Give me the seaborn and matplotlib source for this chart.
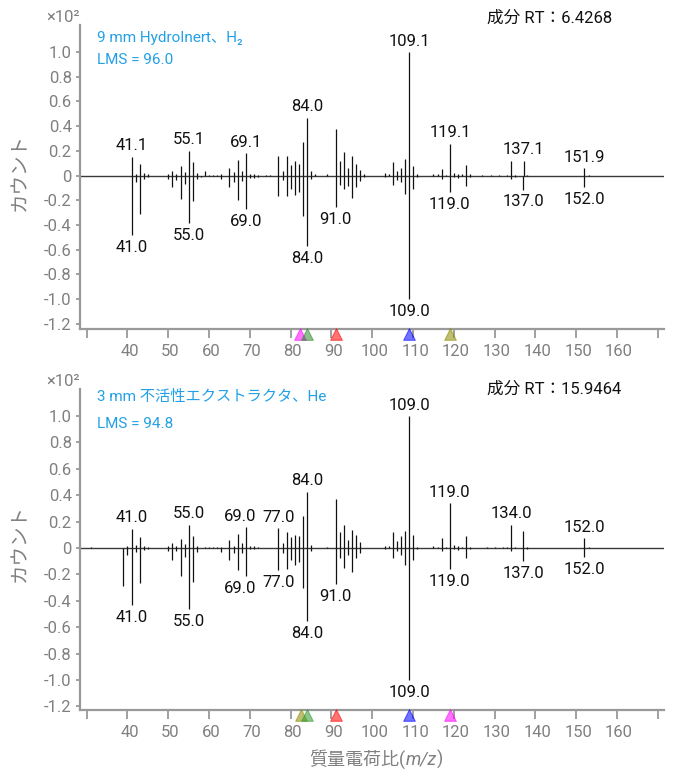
import matplotlib
matplotlib.use('Agg')
import matplotlib.pyplot as plt
import matplotlib.transforms as mtransforms
import seaborn as sns

# --- データ（上段：9 mm HydroInert、H2） ---
top_up_mz = [41.1, 42, 43, 44, 45, 50, 51, 52, 53, 54, 55.1, 56, 57, 59, 60, 61, 62, 63,
             65, 66, 67, 68, 69.1, 70, 71, 72, 74, 75, 77, 78, 79, 80, 81, 82, 83, 84.0, 85, 86, 89,
             91, 92, 93, 94, 95, 96, 97, 98, 103, 104, 105, 106, 107, 108, 109.1, 110, 111,
             115, 116, 117, 118, 119.1, 120, 121, 122, 123, 124, 127, 129, 131, 133,
             134, 135, 137.1, 138, 151.9, 153]
top_up_int = [0.152, 0.016, 0.095, 0.02, 0.012, 0.012, 0.035, 0.016, 0.076, 0.03, 0.20, 0.11, 0.02, 0.035, 0.008, 0.008, 0.008, 0.01,
              0.06, 0.027, 0.125, 0.04, 0.18, 0.01, 0.01, 0.008, 0.005, 0.005, 0.16, 0.04, 0.157, 0.087, 0.12, 0.095, 0.27, 0.47, 0.035, 0.016, 0.01,
              0.374, 0.114, 0.19, 0.057, 0.157, 0.092, 0.043, 0.01, 0.02, 0.016, 0.11, 0.035, 0.062, 0.13, 1.0, 0.076, 0.01,
              0.016, 0.01, 0.054, 0.008, 0.257, 0.02, 0.015, 0.012, 0.087, 0.01, 0.004, 0.004, 0.004, 0.006,
              0.114, 0.008, 0.12, 0.008, 0.057, 0.005]
top_dn_mz = [41.0, 42, 43, 44, 45, 50, 51, 52, 53, 54, 55.0, 56, 57, 58, 63,
             65, 66, 67, 68, 69.0, 70, 71, 72, 77, 78, 79, 80, 81, 82, 83, 84.0, 85,
             91.0, 92, 93, 94, 95, 96, 97, 98, 103, 105, 106, 107, 108, 109.0, 110, 111,
             117, 119.0, 120, 121, 123, 124, 134, 135, 137.0, 152.0]
top_dn_int = [-0.48, -0.05, -0.31, -0.03, -0.01, -0.025, -0.09, -0.04, -0.19, -0.07, -0.385, -0.21, -0.03, -0.01, -0.03,
              -0.095, -0.055, -0.2, -0.046, -0.27, -0.02, -0.02, -0.01, -0.17, -0.04, -0.168, -0.108, -0.155, -0.135, -0.33, -0.57, -0.03,
              -0.255, -0.076, -0.108, -0.087, -0.184, -0.092, -0.046, -0.01, -0.016, -0.073, -0.033, -0.054, -0.15, -1.0, -0.11, -0.01,
              -0.03, -0.133, -0.01, -0.02, -0.087, -0.01, -0.027, -0.01, -0.114, -0.092]
top_up_labels = [41.1, 55.1, 69.1, 84.0, 109.1, 119.1, 137.1, 151.9]
top_dn_labels = [41.0, 55.0, 69.0, 84.0, 91.0, 109.0, 119.0, 137.0, 152.0]
top_marker_mz = [82.3, 84, 91, 109, 119]
top_marker_colors = ['#ff00ff', '#2e8b2e', '#ff0000', '#0000ff', '#8c8c00']

# --- データ（下段：3 mm 不活性エクストラクタ、He） ---
bot_up_mz = [31, 40, 41.0, 42, 43, 44, 45, 50, 51, 52, 53, 54, 55.0, 56, 57, 59, 60, 61, 62, 63,
             65, 66, 67, 68, 69.0, 70, 71, 72, 77.0, 78, 79, 80, 81, 82, 83, 84.0, 85, 89,
             91, 92, 93, 94, 95, 96, 97, 103, 104, 105, 106, 107, 108, 109.0, 110, 111,
             115, 116, 117, 118, 119.0, 120, 121, 122, 123, 124, 128, 130, 132, 133,
             134.0, 135, 137, 138, 152.0, 153]
bot_up_int = [0.005, 0.018, 0.145, 0.025, 0.083, 0.018, 0.01, 0.013, 0.038, 0.018, 0.07, 0.033, 0.175, 0.093, 0.018, 0.008, 0.006, 0.006, 0.006, 0.006,
              0.063, 0.018, 0.108, 0.038, 0.158, 0.015, 0.012, 0.008, 0.15, 0.038, 0.12, 0.08, 0.1, 0.088, 0.243, 0.426, 0.025, 0.005,
              0.368, 0.118, 0.173, 0.058, 0.138, 0.1, 0.043, 0.013, 0.013, 0.12, 0.05, 0.088, 0.13, 1.0, 0.1, 0.01,
              0.018, 0.01, 0.075, 0.01, 0.338, 0.02, 0.015, 0.01, 0.093, 0.01, 0.004, 0.004, 0.006, 0.008,
              0.175, 0.01, 0.13, 0.008, 0.075, 0.005]
bot_dn_mz = [39, 40, 41.0, 42, 43, 44, 45, 50, 51, 52, 53, 54, 55.0, 56, 57, 63,
             65, 66, 67, 68, 69.0, 70, 71, 77.0, 78, 79, 80, 81, 82, 83, 84.0, 85,
             91.0, 92, 93, 94, 95, 96, 97, 103, 105, 106, 107, 108, 109.0, 110, 111,
             117, 119.0, 120, 121, 123, 124, 134, 137.0, 138, 152.0]
bot_dn_int = [-0.29, -0.05, -0.43, -0.033, -0.263, -0.018, -0.01, -0.025, -0.093, -0.025, -0.21, -0.068, -0.46, -0.256, -0.03, -0.03,
              -0.093, -0.038, -0.17, -0.038, -0.213, -0.01, -0.01, -0.168, -0.038, -0.158, -0.088, -0.125, -0.103, -0.3, -0.556, -0.025,
              -0.276, -0.075, -0.153, -0.05, -0.183, -0.075, -0.038, -0.01, -0.075, -0.025, -0.05, -0.125, -1.0, -0.093, -0.01,
              -0.025, -0.158, -0.01, -0.015, -0.075, -0.01, -0.025, -0.1, -0.005, -0.068]
bot_up_labels = [41.0, 55.0, 69.0, 77.0, 84.0, 109.0, 119.0, 134.0, 152.0]
bot_dn_labels = [41.0, 55.0, 69.0, 77.0, 84.0, 91.0, 109.0, 119.0, 137.0, 152.0]
bot_marker_mz = [82.5, 84, 91, 109, 119]
bot_marker_colors = ['#8c8c00', '#2e9b2e', '#ff0000', '#0000ff', '#ff00ff']

x_ticks = list(range(30, 171, 10))
y_ticks = [1.0, 0.8, 0.6, 0.4, 0.2, 0, -0.2, -0.4, -0.6, -0.8, -1.0, -1.2]

sns.set_theme(style='white')
plt.rcParams['font.family'] = ['Roboto', 'Noto Sans CJK JP', 'DejaVu Sans']
plt.rcParams['axes.unicode_minus'] = False

GREY = '#808080'
BLUE = '#22a0e6'
BAR = '#111111'
W, H = 678, 773

fig = plt.figure(figsize=(W / 100, H / 100), dpi=100)


def px_axes(left, top, right, bottom):
    # ピクセル座標で軸を配置
    return fig.add_axes([left / W, 1 - bottom / H, (right - left) / W, (bottom - top) / H])


def px_text(x, y, s, **kw):
    return fig.text(x / W, 1 - y / H, s, **kw)


ax_top = px_axes(80, 25, 664, 329)
ax_bot = px_axes(80, 389, 664, 710)


def spread_labels(texts):
    # 重なったラベルを左へずらす
    fig.canvas.draw()
    r = fig.canvas.get_renderer()
    texts = sorted(texts, key=lambda t: t.xy[0])
    for i in range(len(texts) - 2, -1, -1):
        a = texts[i].get_window_extent(r)
        b = texts[i + 1].get_window_extent(r)
        if a.x1 + 6 > b.x0 and a.y0 < b.y1 and b.y0 < a.y1:
            dx = (a.x1 + 6 - b.x0) * 72 / fig.dpi
            ox, oy = texts[i].xyann
            texts[i].xyann = (ox - dx, oy)


def draw_panel(ax, up_mz, up_int, dn_mz, dn_int, up_lab, dn_lab, mk_mz, mk_col, ylims):
    ax.axhline(0, color='#3a3a3a', lw=1.0, zorder=1)
    ax.vlines(up_mz, 0, up_int, color=BAR, lw=0.9, zorder=2)
    ax.vlines(dn_mz, 0, dn_int, color=BAR, lw=0.9, zorder=2)

    # ピークラベル
    ups, dns = [], []
    for m in up_lab:
        h = up_int[up_mz.index(m)]
        ups.append(ax.annotate(f'{m:.1f}', (m, h), xytext=(0, 2.5), textcoords='offset points',
                               ha='center', va='bottom', fontsize=12, color='#111111'))
    for m in dn_lab:
        h = dn_int[dn_mz.index(m)]
        dns.append(ax.annotate(f'{m:.1f}', (m, h), xytext=(0, -3.5), textcoords='offset points',
                               ha='center', va='top', fontsize=12, color='#111111'))

    ax.set_xlim(28.36, 171.5)
    ax.set_ylim(*ylims)
    ax.set_xticks(x_ticks)
    ax.set_xticklabels(['' if t in (30, 170) else str(t) for t in x_ticks])
    ax.set_yticks(y_ticks)
    ax.set_yticklabels(['0' if t == 0 else f'{t:.1f}' for t in y_ticks])
    ax.tick_params(axis='x', length=6.5, width=1.3, color='#999999', labelcolor=GREY,
                   labelsize=12, pad=4.5, bottom=True)
    ax.tick_params(axis='y', length=3, width=1.3, color='#999999', labelcolor=GREY,
                   labelsize=12, pad=3, left=True)
    shift = mtransforms.ScaledTranslation(2 / 100, 0, fig.dpi_scale_trans)
    for lab in ax.get_xticklabels():
        lab.set_transform(lab.get_transform() + shift)
    sns.despine(ax=ax, top=True, right=True)
    for s in ('left', 'bottom'):
        ax.spines[s].set_color('#999999')
        ax.spines[s].set_linewidth(1.6)

    # 下端の三角マーカー
    tr = mtransforms.offset_copy(ax.get_xaxis_transform(), fig=fig, y=-5, units='dots')
    for m, c in zip(mk_mz, mk_col):
        ax.scatter([m], [0], marker='^', s=70, color=c, alpha=0.55, edgecolor=c,
                   linewidth=0.8, transform=tr, clip_on=False, zorder=5)
    return ups, dns


top_texts = draw_panel(ax_top, top_up_mz, top_up_int, top_dn_mz, top_dn_int, top_up_labels,
                       top_dn_labels, top_marker_mz, top_marker_colors, (-1.244, 1.22))
bot_texts = draw_panel(ax_bot, bot_up_mz, bot_up_int, bot_dn_mz, bot_dn_int, bot_up_labels,
                       bot_dn_labels, bot_marker_mz, bot_marker_colors, (-1.227, 1.2045))
for group in top_texts + bot_texts:
    spread_labels(group)

# 注記テキスト
px_text(80, 17, '×10²', ha='right', va='center', fontsize=12, color=GREY)
px_text(80, 382, '×10²', ha='right', va='center', fontsize=12, color=GREY)
px_text(97, 38, '9 mm HydroInert、H₂', ha='left', va='center', fontsize=11, color=BLUE)
px_text(97, 60, 'LMS = 96.0', ha='left', va='center', fontsize=11, color=BLUE)
px_text(97, 397, '3 mm 不活性エクストラクタ、He', ha='left', va='center', fontsize=11, color=BLUE)
px_text(97, 424, 'LMS = 94.8', ha='left', va='center', fontsize=11, color=BLUE)
px_text(487, 18, '成分 RT：6.4268', ha='left', va='center', fontsize=12, color='#111111')
px_text(487, 389, '成分 RT：15.9464', ha='left', va='center', fontsize=12, color='#111111')
px_text(20, 172, 'カウント', ha='center', va='center', rotation=90, fontsize=14, color=GREY)
px_text(20, 543, 'カウント', ha='center', va='center', rotation=90, fontsize=14, color=GREY)

# x軸ラベル：「質量電荷比(」＋斜体「m/z」＋「)」を並べて中央に置く
parts = [('質量電荷比(', 'normal'), ('m/z', 'italic'), (')', 'normal')]
pieces = [px_text(0, 759, s, ha='left', va='center', fontsize=13, color=GREY, style=st)
          for s, st in parts]
fig.canvas.draw()
rend = fig.canvas.get_renderer()
widths = [p.get_window_extent(rend).width for p in pieces]
x0 = 376 - sum(widths) / 2
for p, w in zip(pieces, widths):
    p.set_x(x0 / W)
    x0 += w

fig.savefig('out.png', dpi=100)
